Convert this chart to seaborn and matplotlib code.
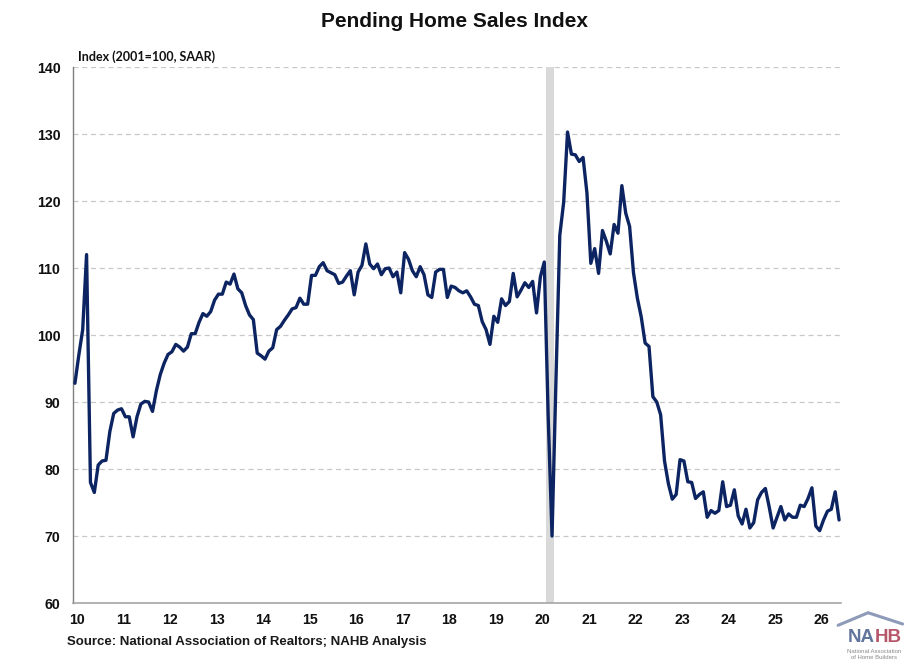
# -------------------------------
# pending_home_sales.py
# -------------------------------

import numpy as np
import pandas as pd
import matplotlib
matplotlib.use("Agg")
import matplotlib.pyplot as plt
from matplotlib.lines import Line2D
import seaborn as sns

# -------------------------------
# Data (monthly index, Jan 2010 onward)
# -------------------------------
idx_2010 = [92.8, 97.0, 100.8, 112.0, 78.0, 76.5, 80.6, 81.2, 81.3, 85.6, 88.3, 88.8]
idx_2011 = [89.0, 87.8, 87.8, 84.8, 87.8, 89.7, 90.1, 90.0, 88.6, 91.7, 94.1, 95.8]
idx_2012 = [97.1, 97.5, 98.6, 98.2, 97.6, 98.2, 100.2, 100.2, 101.9, 103.2, 102.8, 103.5]
idx_2013 = [105.2, 106.1, 106.1, 107.9, 107.6, 109.1, 106.9, 106.3, 104.4, 103.0, 102.3, 97.3]
idx_2014 = [96.9, 96.4, 97.6, 98.1, 100.8, 101.3, 102.2, 103.0, 103.9, 104.1, 105.5, 104.6]
idx_2015 = [104.6, 108.9, 108.9, 110.2, 110.8, 109.6, 109.3, 109.0, 107.7, 107.9, 108.8, 109.6]
idx_2016 = [106.0, 109.4, 110.4, 113.6, 110.6, 109.9, 110.6, 109.0, 109.9, 110.0, 108.7, 109.4]
idx_2017 = [106.3, 112.3, 111.3, 109.6, 108.7, 110.2, 109.0, 106.0, 105.6, 109.4, 109.8, 109.8]
idx_2018 = [105.6, 107.3, 107.1, 106.6, 106.3, 106.6, 105.7, 104.6, 104.4, 102.0, 100.8, 98.6]
idx_2019 = [102.8, 101.9, 105.4, 104.4, 105.0, 109.2, 105.7, 106.7, 107.8, 107.1, 108.0, 103.3]
idx_2020 = [108.7, 110.9, 88.0, 70.0, 93.0, 114.9, 119.8, 130.3, 127.0, 126.9, 125.9, 126.5]
idx_2021 = [121.2, 110.7, 112.9, 109.2, 115.6, 114.0, 112.1, 116.5, 115.2, 122.3, 118.2, 116.2]
idx_2022 = [109.3, 105.5, 102.7, 98.8, 98.3, 90.8, 90.0, 88.1, 81.2, 77.8, 75.5, 76.2]
idx_2023 = [81.4, 81.2, 78.1, 78.0, 75.6, 76.2, 76.6, 72.8, 73.8, 73.4, 73.8, 78.1]
idx_2024 = [74.4, 74.6, 76.9, 73.0, 71.8, 74.0, 71.2, 72.0, 75.4, 76.5, 77.1, 74.3]
idx_2025 = [71.2, 72.8, 74.4, 72.4, 73.3, 72.8, 72.8, 74.6, 74.4, 75.6, 77.2, 71.5]
idx_2026 = [70.8, 72.4, 73.7, 74.0, 76.6, 72.4]

year_labels = ["10", "11", "12", "13", "14", "15", "16", "17", "18",
               "19", "20", "21", "22", "23", "24", "25", "26"]
y_ticks = [60, 70, 80, 90, 100, 110, 120, 130, 140]

# recession shading (month index, start/end)
recession = (121.5, 123.5)

# -------------------------------
# Style
# -------------------------------
sns.set_theme(style="white")
plt.rcParams["font.family"] = ["Liberation Sans", "DejaVu Sans"]

LINE_COLOR = "#0c2461"
GRID_COLOR = "#c8c8c8"


def build_frame() -> pd.DataFrame:
    values = (idx_2010 + idx_2011 + idx_2012 + idx_2013 + idx_2014 + idx_2015
              + idx_2016 + idx_2017 + idx_2018 + idx_2019 + idx_2020 + idx_2021
              + idx_2022 + idx_2023 + idx_2024 + idx_2025 + idx_2026)
    return pd.DataFrame({"month": np.arange(len(values)), "index": values})


def main():
    df = build_frame()

    fig = plt.figure(figsize=(9.09, 6.61), dpi=100)
    ax = fig.add_axes([0.0803, 0.0877, 0.8449, 0.8109])

    ax.axvspan(*recession, color="#d9d9d9", lw=0, zorder=1)
    sns.lineplot(data=df, x="month", y="index", ax=ax, color=LINE_COLOR,
                 linewidth=2.4, zorder=3)

    ax.set_xlim(-0.5, len(df) - 0.5)
    ax.set_ylim(60, 140)
    ax.set_yticks(y_ticks)
    ax.set_xticks(np.arange(len(year_labels)) * 12 + 0.5)
    ax.set_xticklabels(year_labels)
    ax.set_xlabel("")
    ax.set_ylabel("")

    ax.yaxis.grid(True, color=GRID_COLOR, linestyle=(0, (4, 3)), linewidth=0.9)
    ax.xaxis.grid(False)
    ax.set_axisbelow(True)

    for side in ["top", "right"]:
        ax.spines[side].set_visible(False)
    ax.spines["left"].set_color("#7f7f7f")
    ax.spines["bottom"].set_color("#a6a6a6")
    ax.spines["left"].set_linewidth(1.0)
    ax.spines["bottom"].set_linewidth(1.2)

    ax.tick_params(axis="y", length=4, width=0.8, color="#7f7f7f", pad=5,
                   labelsize=10.2)
    ax.tick_params(axis="x", length=0, pad=7, labelsize=10.2)
    for lab in ax.get_xticklabels() + ax.get_yticklabels():
        lab.set_fontweight("bold")
        lab.set_color("#111111")

    # titles / notes
    fig.text(0.5, 0.967, "Pending Home Sales Index", ha="center", va="center",
             fontsize=15, fontweight="bold", color="#111111")
    fig.text(0.086, 0.915, "Index (2001=100, SAAR)", ha="left", va="center",
             fontsize=9, fontweight="bold", color="#111111",
             family=["Lato", "DejaVu Sans"])
    fig.text(0.074, 0.029, "Source: National Association of Realtors; NAHB Analysis",
             ha="left", va="center", fontsize=9.5, fontweight="bold",
             color="#1a1a1a")

    # NAHB logo (text mark)
    fig.add_artist(Line2D([0.922, 0.955, 0.993], [0.054, 0.073, 0.056],
                          transform=fig.transFigure, color="#8d9bb8", lw=2.2,
                          solid_joinstyle="miter"))
    fig.text(0.962, 0.035, "NA", ha="right", va="center", fontsize=13.5,
             fontweight="bold", color="#61759c")
    fig.text(0.962, 0.035, "HB", ha="left", va="center", fontsize=13.5,
             fontweight="bold", color="#b5566a")
    fig.text(0.962, 0.015, "National Association", ha="center", va="center",
             fontsize=4.3, color="#888888")
    fig.text(0.962, 0.005, "of Home Builders", ha="center", va="center",
             fontsize=4.3, color="#888888")

    fig.savefig("out.png", dpi=100)


if __name__ == "__main__":
    main()
